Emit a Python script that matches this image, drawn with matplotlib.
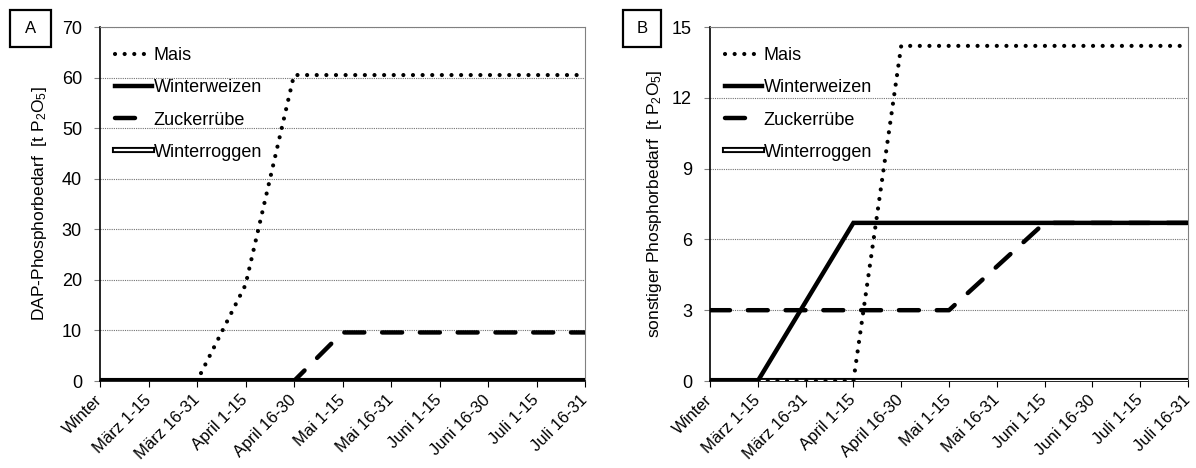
import matplotlib.pyplot as plt
import matplotlib.patheffects as pe
from matplotlib.patches import Rectangle

plt.rcParams['font.family'] = ['Liberation Sans', 'DejaVu Sans']
plt.rcParams['mathtext.default'] = 'regular'

perioden = ['Winter', 'März 1-15', 'März 16-31', 'April 1-15', 'April 16-30',
            'Mai 1-15', 'Mai 16-31', 'Juni 1-15', 'Juni 16-30', 'Juli 1-15',
            'Juli 16-31']

# DAP-Phosphorbedarf
dap_mais = [0, 0, 0, 19, 60.5, 60.5, 60.5, 60.5, 60.5, 60.5, 60.5]
dap_weizen = [0, 0, 0, 0, 0, 0, 0, 0, 0, 0, 0]
dap_ruebe = [0, 0, 0, 0, 0, 9.6, 9.6, 9.6, 9.6, 9.6, 9.6]
dap_roggen = [0, 0, 0, 0, 0, 0, 0, 0, 0, 0, 0]

# sonstiger Phosphorbedarf
sonst_mais = [0, 0, 0, 0, 14.2, 14.2, 14.2, 14.2, 14.2, 14.2, 14.2]
sonst_weizen = [0, 0, 3.35, 6.7, 6.7, 6.7, 6.7, 6.7, 6.7, 6.7, 6.7]
sonst_ruebe = [3.0, 3.0, 3.0, 3.0, 3.0, 3.0, 4.85, 6.7, 6.7, 6.7, 6.7]
sonst_roggen = [0, 0, 0, 0, 0, 0, 0, 0, 0, 0, 0]


def zeichne(ax, mais, weizen, ruebe, roggen, ymax, ystep, ylabel, label_x):
    x = range(len(perioden))
    ax.plot(x, roggen, color='white', lw=1.6, label='Winterroggen', zorder=3,
            path_effects=[pe.Stroke(linewidth=4.4, foreground='black'), pe.Normal()])
    ax.plot(x, weizen, color='black', lw=3.2, label='Winterweizen', zorder=4,
            solid_joinstyle='miter')
    ax.plot(x, ruebe, color='black', lw=3.2, ls=(0, (4.5, 4)), label='Zuckerrübe',
            dash_capstyle='round', zorder=4)
    ax.plot(x, mais, color='black', lw=3.0, ls=(0, (0.01, 2.3)), label='Mais',
            dash_capstyle='round', zorder=5)

    ax.set_xlim(0, len(perioden) - 1)
    ax.set_ylim(0, ymax)
    ax.set_xticks(list(x))
    ax.set_xticklabels(perioden, rotation=45, ha='right', va='center',
                       rotation_mode='anchor', fontsize=12)
    ax.set_yticks(range(0, ymax + 1, ystep))
    ax.tick_params(axis='y', labelsize=13, length=4, color='0.5', pad=9)
    ax.tick_params(axis='x', length=4, pad=8)
    ax.yaxis.grid(True, color='0.45', ls=(0, (1, 1)), lw=0.8)
    ax.set_axisbelow(True)
    for s in ('top', 'right'):
        ax.spines[s].set_color('0.5')
    ax.spines['left'].set_linewidth(1.2)
    ax.spines['bottom'].set_linewidth(1.2)
    ax.set_ylabel(ylabel, fontsize=12.5)
    ax.yaxis.set_label_coords(label_x, 0.5)

    h, l = ax.get_legend_handles_labels()
    order = [3, 1, 2, 0]
    ax.legend([h[i] for i in order], [l[i] for i in order], loc='upper left',
              bbox_to_anchor=(0, 0.986), frameon=False, fontsize=13,
              handlelength=2.05, handletextpad=0.08, labelspacing=0.84,
              borderaxespad=0.35, borderpad=0.5)


fig = plt.figure(figsize=(11.96, 4.68), dpi=100)
ax_a = fig.add_axes([100 / 1196, 87 / 468, 485 / 1196, 354 / 468])
ax_b = fig.add_axes([710 / 1196, 87 / 468, 478 / 1196, 354 / 468])

zeichne(ax_a, dap_mais, dap_weizen, dap_ruebe, dap_roggen, 70, 10,
        'DAP-Phosphorbedarf  [t P$_2$O$_5$]', -0.105)
zeichne(ax_b, sonst_mais, sonst_weizen, sonst_ruebe, sonst_roggen, 15, 3,
        'sonstiger Phosphorbedarf  [t P$_2$O$_5$]', -0.097)

# Kennbuchstaben in Kästchen
for x0, breite, buchstabe in ((10, 41, 'A'), (623, 38, 'B')):
    fig.add_artist(Rectangle((x0 / 1196, 1 - 47 / 468), breite / 1196, 37 / 468,
                             transform=fig.transFigure, fill=False,
                             ec='black', lw=1.6))
    fig.text((x0 + breite / 2) / 1196, 1 - 28.5 / 468, buchstabe,
             ha='center', va='center', fontsize=12)

fig.savefig('out.png', dpi=100)
